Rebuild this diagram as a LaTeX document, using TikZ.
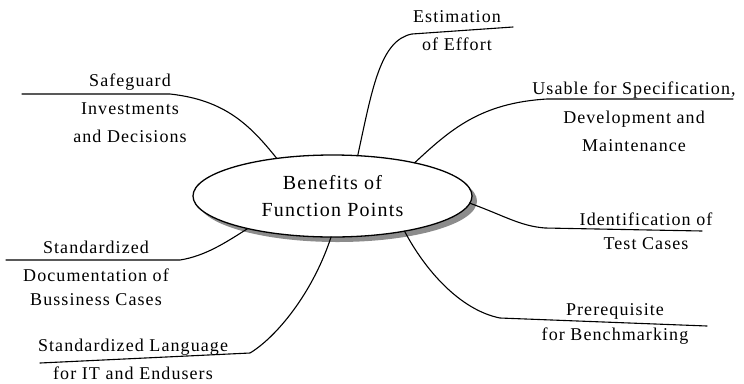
\documentclass[tikz,border=0pt]{standalone}
\usepackage{fontspec}
\setmainfont{Liberation Serif}[LetterSpace=6]
\usetikzlibrary{shapes.geometric,shadows}

\tikzset{
  branch/.style={line width=1.1bp, line cap=round, line join=round},
  leaf/.style={align=center, inner sep=0pt, font=\fontsize{18bp}{24bp}\selectfont},
  hubnode/.style={ellipse, draw, line width=1.3bp, fill=white,
    minimum width=279bp, minimum height=82bp, inner sep=0pt, outer sep=0pt,
    font=\fontsize{20bp}{27bp}\selectfont, align=center,
    drop shadow={shadow xshift=5bp, shadow yshift=-5bp, fill=black!45, opacity=1}}
}

\begin{document}
\begin{tikzpicture}[x=1bp,y=-1bp]
\useasboundingbox (0,0) rectangle (744,383);

% central topic
\node[hubnode] (hub) at (332.5,196) {Benefits of\\Function Points};

% labels
\node[leaf] (est)  at (457,31)    {Estimation\\[4bp]of Effort};
\node[leaf] (use)  at (634,117)   {Usable for Specification,\\[5bp]Development and\\[4bp]Maintenance};
\node[leaf] (safe) at (130,108.5) {Safeguard\\[4bp]Investments\\[4bp]and Decisions};
\node[leaf] (ident) at (646,231)  {Identification of\\Test Cases};
\node[leaf] (prereq) at (615,324) {Prerequisite\\[1bp]for Benchmarking};
\node[leaf] (doc)  at (96,273)    {Standardized\\[4bp]Documentation of\\Bussiness Cases};
\node[leaf] (lang) at (133,359.5) {Standardized Language\\[4bp]for IT and Endusers};

% free ends of the underlines
\coordinate (est-end)    at (513,27);
\coordinate (use-end)    at (733,99);
\coordinate (safe-end)   at (22,94);
\coordinate (ident-end)  at (702,231);
\coordinate (prereq-end) at (707,326);
\coordinate (doc-end)    at (6,260);
\coordinate (lang-end)   at (40,363);

% branches
\draw[branch] (hub.58)  .. controls (372,90) and (380,40) .. (412,34) -- (est-end);
\draw[branch] (hub.22)  .. controls (450,130) and (480,103) .. (547,99) -- (use-end);
\draw[branch] (hub.146) .. controls (250,125) and (225,100) .. (170,94) -- (safe-end);
\draw[branch] (hub.-3)  .. controls (505,216) and (520,226) .. (545,228) -- (ident-end);
\draw[branch] (hub.-26) .. controls (425,270) and (460,310) .. (500,318) -- (prereq-end);
\draw[branch] (hub.201) .. controls (225,243) and (205,256) .. (180,260) -- (doc-end);
\draw[branch] (hub.268) .. controls (312,295) and (275,338) .. (250,353) -- (lang-end);
\end{tikzpicture}
\end{document}
